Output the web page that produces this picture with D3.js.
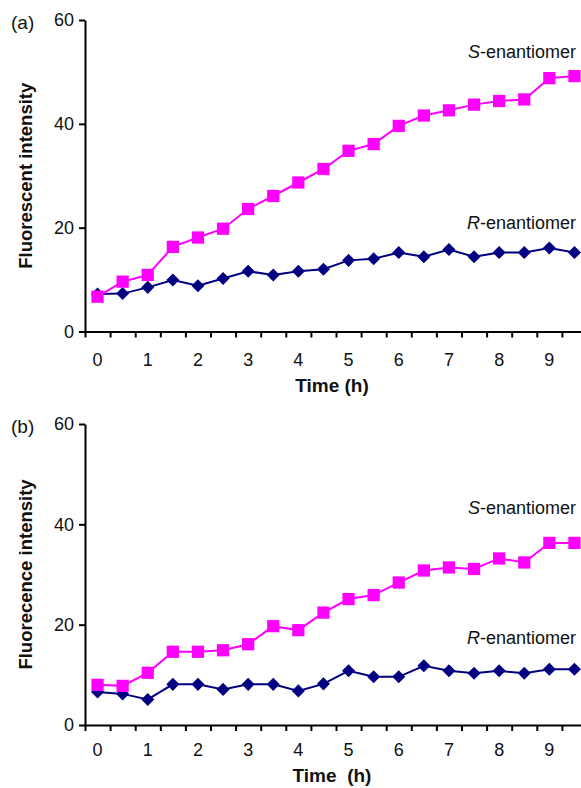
<!DOCTYPE html>
<html>
<head>
<meta charset="utf-8">
<script src="https://cdn.jsdelivr.net/npm/d3@7"></script>
<style>
  body { margin: 0; background: #fff; }
  svg { display: block; font-family: "Liberation Sans", Arial, sans-serif; }
</style>
</head>
<body>
<div id="chart"></div>
<script>
// time points (h), one category each
const times = d3.range(0, 20).map(i => i / 2);
const timeLabels = times.filter(t => Number.isInteger(t));
const yTicks = [0, 20, 40, 60];

// panel (a)
const sA = [6.7, 9.6, 10.9, 16.3, 18.1, 19.8, 23.6, 26.1, 28.7, 31.3, 34.8, 36.1, 39.6, 41.6, 42.6, 43.7, 44.4, 44.7, 48.8, 49.2];
const rA = [7.2, 7.3, 8.5, 9.9, 8.8, 10.2, 11.6, 10.9, 11.6, 12.0, 13.7, 14.0, 15.2, 14.4, 15.8, 14.4, 15.2, 15.2, 16.1, 15.2];

// panel (b)
const sB = [8.0, 7.8, 10.4, 14.6, 14.6, 14.9, 16.1, 19.7, 18.9, 22.4, 25.1, 25.9, 28.4, 30.8, 31.4, 31.1, 33.2, 32.4, 36.3, 36.3];
const rB = [6.6, 6.2, 5.1, 8.1, 8.1, 7.1, 8.1, 8.1, 6.8, 8.2, 10.8, 9.6, 9.6, 11.8, 10.8, 10.3, 10.8, 10.3, 11.1, 11.1];

const panels = [
  { tag: "(a)", yTitle: "Fluorescent intensity", xTitle: "Time (h)", s: sA, r: rA,
    top: 20, bottom: 331.5, sLabelY: 58, rLabelY: 229, tickPad: 22, titleOff: 60 },
  { tag: "(b)", yTitle: "Fluorecence intensity", xTitle: "Time\u00a0\u00a0(h)", s: sB, r: rB,
    top: 424, bottom: 725, sLabelY: 514, rLabelY: 644, tickPad: 18.5, titleOff: 57 }
];

const W = 581, H = 788;
const x0 = 85, x1 = 587;

const svg = d3.create("svg")
    .attr("width", W)
    .attr("height", H)
    .attr("viewBox", [0, 0, W, H]);

svg.append("rect").attr("width", W).attr("height", H).attr("fill", "#fff");

const xBand = d3.scaleBand().domain(times).range([x0, x1]).paddingInner(0).paddingOuter(0);
const xEdge = d3.scaleLinear().domain([0, times.length]).range([x0, x1]);
const xc = t => xBand(t) + xBand.bandwidth() / 2;

const square = d3.symbol().type(d3.symbolSquare).size(150);
const diamond = d3.symbol().type(d3.symbolSquare).size(85);

panels.forEach(p => {
  const y = d3.scaleLinear().domain([0, 60]).range([p.bottom, p.top]);
  const g = svg.append("g");

  // y axis
  const yAxis = g.append("g")
      .attr("transform", `translate(${x0},0)`)
      .call(d3.axisLeft(y).tickValues(yTicks).tickSize(6).tickPadding(5).tickSizeOuter(0));
  yAxis.select(".domain").attr("stroke-width", 2);
  yAxis.selectAll(".tick line").attr("stroke-width", 2);
  yAxis.selectAll("text").attr("font-size", 18).attr("fill", "#111");

  // x axis: ticks on category edges
  const xTickAxis = g.append("g")
      .attr("transform", `translate(0,${p.bottom})`)
      .call(d3.axisBottom(xEdge).tickValues(d3.range(0, times.length + 1)).tickFormat("").tickSize(6).tickSizeOuter(0));
  xTickAxis.select(".domain").attr("stroke-width", 2);
  xTickAxis.selectAll(".tick line").attr("stroke-width", 2);

  // x labels at category centres
  const xLab = g.append("g")
      .attr("transform", `translate(0,${p.bottom})`)
      .call(d3.axisBottom(xBand).tickValues(timeLabels).tickSize(0).tickPadding(p.tickPad));
  xLab.select(".domain").remove();
  xLab.selectAll("text").attr("font-size", 18).attr("fill", "#111");

  const line = d3.line().x((d, i) => xc(times[i])).y(d => y(d));

  // R-enantiomer (navy diamonds)
  g.append("path").datum(p.r)
      .attr("fill", "none").attr("stroke", "#000080").attr("stroke-width", 2)
      .attr("d", line);
  g.selectAll(".rdot").data(p.r).join("path")
      .attr("class", "rdot")
      .attr("fill", "#000080")
      .attr("d", diamond)
      .attr("transform", (d, i) => `translate(${xc(times[i])},${y(d)}) rotate(45)`);

  // S-enantiomer (magenta squares)
  g.append("path").datum(p.s)
      .attr("fill", "none").attr("stroke", "#ff00ff").attr("stroke-width", 2)
      .attr("d", line);
  g.selectAll(".sdot").data(p.s).join("path")
      .attr("class", "sdot")
      .attr("fill", "#ff00ff")
      .attr("d", square)
      .attr("transform", (d, i) => `translate(${xc(times[i])},${y(d)})`);

  // series labels
  const lab = (txt, ty) => {
    const t = g.append("text")
        .attr("x", 576).attr("y", ty)
        .attr("text-anchor", "end")
        .attr("font-size", 18).attr("fill", "#111");
    t.append("tspan").attr("font-style", "italic").text(txt);
    t.append("tspan").text("-enantiomer");
  };
  lab("S", p.sLabelY);
  lab("R", p.rLabelY);

  // panel tag
  g.append("text")
      .attr("x", 11).attr("y", p.top + 9)
      .attr("font-size", 19).attr("fill", "#111")
      .text(p.tag);

  // axis titles
  g.append("text")
      .attr("transform", `translate(32,${(p.top + p.bottom) / 2}) rotate(-90)`)
      .attr("text-anchor", "middle")
      .attr("font-size", 18.5).attr("font-weight", "bold").attr("fill", "#111")
      .text(p.yTitle);

  g.append("text")
      .attr("x", 332).attr("y", p.bottom + p.titleOff)
      .attr("text-anchor", "middle")
      .attr("font-size", 19).attr("font-weight", "bold").attr("fill", "#111")
      .text(p.xTitle);
});

document.getElementById("chart").append(svg.node());
</script>
</body>
</html>
